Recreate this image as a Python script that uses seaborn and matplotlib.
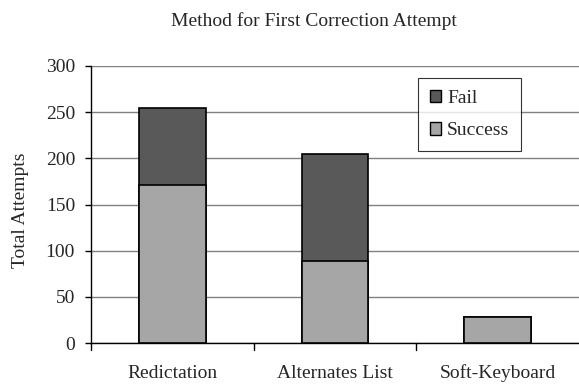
import matplotlib
matplotlib.use("Agg")
import matplotlib.pyplot as plt
import seaborn as sns
import pandas as pd
from matplotlib.patches import Patch

methods = ["Redictation", "Alternates List", "Soft-Keyboard"]
success = [171, 89, 28]
fail = [84, 116, 0]
yticks = [0, 50, 100, 150, 200, 250, 300]

totals = [s + f for s, f in zip(success, fail)]
df = pd.DataFrame({"Method": methods, "Success": success, "Fail": fail, "Total": totals})

sns.set_theme(style="white")
plt.rcParams["font.family"] = ["Liberation Serif", "DejaVu Serif"]

fail_color = "#595959"
success_color = "#a6a6a6"
fs = 14

fig = plt.figure(figsize=(5.79, 3.85), dpi=100)
ax = fig.add_axes([91 / 579, 1 - 343 / 385, (579 - 91) / 579, (343 - 66) / 385])

# stacked bars: full height in the "Fail" colour, then the success part over it
sns.barplot(data=df, x="Method", y="Total", color=fail_color, width=0.41,
            edgecolor="black", linewidth=1.2, saturation=1, ax=ax, zorder=3)
sns.barplot(data=df, x="Method", y="Success", color=success_color, width=0.41,
            edgecolor="black", linewidth=1.2, saturation=1, ax=ax, zorder=4)

ax.set_ylim(0, 300)
ax.set_xlim(-0.5, 2.5)
ax.set_yticks(yticks)
ax.set_yticklabels([str(t) for t in yticks], fontsize=fs)
ax.yaxis.grid(True, color="#808080", linewidth=1.0, zorder=0)
ax.set_axisbelow(True)

# category labels centred, tick marks between categories
ax.set_xticks([0, 1, 2])
ax.set_xticklabels(methods, fontsize=fs)
ax.tick_params(axis="x", length=0, pad=15.5)
for xb in [-0.5, 0.5, 1.5]:
    ax.plot([xb, xb], [0, -0.025], transform=ax.get_xaxis_transform(),
            color="black", linewidth=1, clip_on=False)
ax.tick_params(axis="y", left=True, length=4.5, width=1, color="black",
               direction="out", pad=7)

for side in ["top", "right"]:
    ax.spines[side].set_visible(False)
for side in ["left", "bottom"]:
    ax.spines[side].set_color("black")
    ax.spines[side].set_linewidth(1)

ax.set_xlabel("")
ax.set_ylabel("")
fig.text(21 / 579, 1 - 210 / 385, "Total Attempts", rotation=90,
         ha="center", va="center", fontsize=fs)
fig.text(314 / 579, 1 - 21 / 385, "Method for First Correction Attempt",
         ha="center", va="center", fontsize=fs)

handles = [Patch(facecolor=fail_color, edgecolor="black", label="Fail"),
           Patch(facecolor=success_color, edgecolor="black", label="Success")]
leg = ax.legend(handles=handles, loc="upper left",
                bbox_to_anchor=((418 - 91) / 488, (343 - 78) / 277),
                fontsize=fs, frameon=True, fancybox=False, edgecolor="black",
                handlelength=0.6, handleheight=0.6, handletextpad=0.3,
                borderpad=0.6, labelspacing=0.8, borderaxespad=0)
leg.get_frame().set_linewidth(0.8)

fig.savefig("out.png", dpi=100)
